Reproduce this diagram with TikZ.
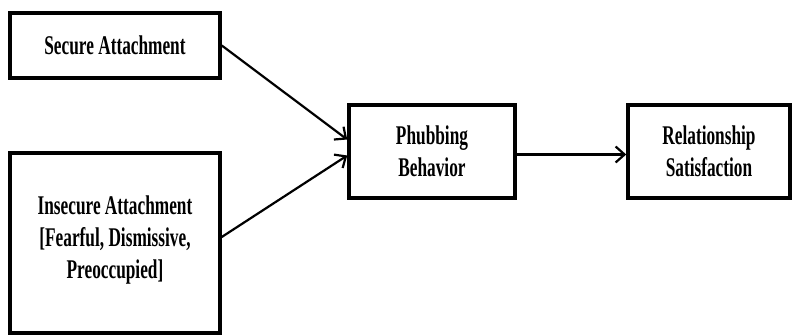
\documentclass[tikz,border=0pt]{standalone}
\usepackage{fontspec}
\setmainfont[FakeStretch=0.64]{Liberation Serif}
\usetikzlibrary{arrows.meta}

\begin{document}
\begin{tikzpicture}[x=1pt,y=-1pt]

\tikzstyle{box}=[rectangle,draw,line width=3.5pt,align=center,
  font=\fontsize{27}{32}\selectfont\bfseries]
\tikzstyle{link}=[line width=2.2pt,-{Straight Barb[length=9pt,width=16pt,line width=2.2pt]}]

\useasboundingbox (0,0) rectangle (807,335);

\node [box,minimum width=210pt,minimum height=65pt] (secure) at (115,45.5) {Secure Attachment};
\node [box,minimum width=210pt,minimum height=180pt,text depth=12pt] (insecure) at (115,243)
  {Insecure Attachment\\{}[Fearful, Dismissive,\\Preoccupied]};
\node [box,minimum width=166pt,minimum height=93pt] (phub) at (432,151.5) {Phubbing\\Behavior};
\node [box,minimum width=162pt,minimum height=93pt] (relsat) at (709,151.5) {Relationship\\Satisfaction};

\draw [link] (secure.east) -- ([yshift=12pt]phub.west);
\draw [link] ([yshift=6pt]insecure.east) -- ([yshift=-4pt]phub.west);
\draw [link] ([yshift=-3pt]phub.east) -- ([yshift=-3pt]relsat.west);

\end{tikzpicture}
\end{document}
